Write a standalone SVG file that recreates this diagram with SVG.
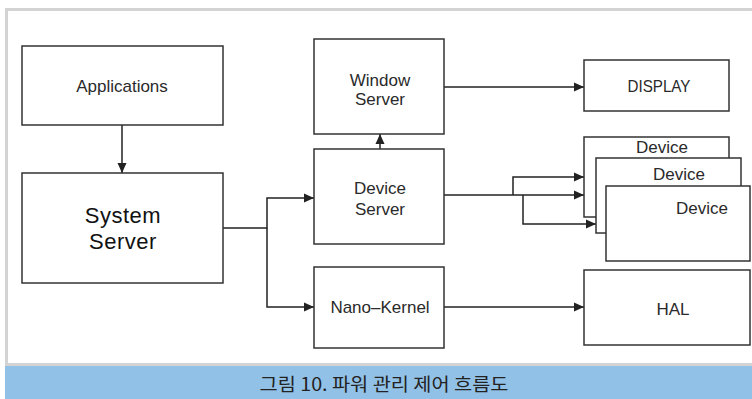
<svg xmlns="http://www.w3.org/2000/svg" width="752" height="399" viewBox="0 0 752 399">
<style>
.box{fill:#fff;stroke:#333;stroke-width:1.5}
.t{font-family:"Liberation Sans",Arial,sans-serif;font-size:17px;fill:#2a2a2a;text-anchor:middle}
.big{font-family:"Liberation Sans",Arial,sans-serif;font-size:22px;fill:#111;text-anchor:middle;letter-spacing:0.5px}
.ln{fill:none;stroke:#222;stroke-width:1.5}
.cap{font-family:"Noto Sans CJK KR",sans-serif;font-size:18px;fill:#222;text-anchor:middle}
</style>
<defs>
<marker id="ah" markerWidth="10" markerHeight="10" refX="10" refY="5" orient="auto" markerUnits="userSpaceOnUse">
<path d="M0,0.5 L10,5 L0,9.5 Z" fill="#222"/>
</marker>
</defs>
<rect x="0" y="0" width="752" height="399" fill="#fff"/>
<rect x="6.5" y="9.5" width="760" height="355" fill="#fff" stroke="#d3d3d3" stroke-width="3"/>
<rect x="5" y="366" width="747" height="33" fill="#92c1e7"/>
<text class="cap" x="384" y="391" textLength="249" lengthAdjust="spacingAndGlyphs">그림 10. 파워 관리 제어 흐름도</text>

<g id="connectors">
<path class="ln" d="M122,125 V173" marker-end="url(#ah)"/>
<path class="ln" d="M223,228 H267 V198 H314" marker-end="url(#ah)"/>
<path class="ln" d="M267,228 V307 H314" marker-end="url(#ah)"/>
<path class="ln" d="M380,149 V134" marker-end="url(#ah)"/>
<path class="ln" d="M444,87 H584" marker-end="url(#ah)"/>
<path class="ln" d="M444,195 H584" marker-end="url(#ah)"/>
<path class="ln" d="M513,195 V177 H584" marker-end="url(#ah)"/>
<path class="ln" d="M523,195 V224 H596" marker-end="url(#ah)"/>
<path class="ln" d="M444,307 H584" marker-end="url(#ah)"/>
</g>

<g id="applications">
<rect class="box" x="22" y="46" width="201" height="79"/>
<text class="t" x="122" y="92">Applications</text>
</g>
<g id="system-server">
<rect class="box" x="22" y="173" width="201" height="110"/>
<text class="big" x="123" y="223">System</text>
<text class="big" x="123" y="249">Server</text>
</g>
<g id="window-server">
<rect class="box" x="314" y="39" width="130" height="95"/>
<text class="t" x="380" y="86">Window</text>
<text class="t" x="380" y="105">Server</text>
</g>
<g id="device-server">
<rect class="box" x="314" y="149" width="130" height="95"/>
<text class="t" x="380" y="194">Device</text>
<text class="t" x="380" y="215">Server</text>
</g>
<g id="nano-kernel">
<rect class="box" x="314" y="267" width="130" height="81"/>
<text class="t" x="380" y="313">Nano–Kernel</text>
</g>
<g id="display">
<rect class="box" x="584" y="60" width="145" height="51"/>
<text class="t" x="659" y="92" textLength="63" lengthAdjust="spacingAndGlyphs">DISPLAY</text>
</g>
<g id="device-1">
<rect class="box" x="584" y="137" width="145" height="80"/>
<text class="t" x="662" y="153">Device</text>
</g>
<g id="device-2">
<rect class="box" x="596" y="158" width="145" height="75"/>
<text class="t" x="679" y="180">Device</text>
</g>
<g id="device-3">
<rect class="box" x="606" y="186" width="144" height="75"/>
<text class="t" x="702" y="214">Device</text>
</g>
<g id="hal">
<rect class="box" x="584" y="270" width="166" height="75"/>
<text class="t" x="673" y="315">HAL</text>
</g>
</svg>
